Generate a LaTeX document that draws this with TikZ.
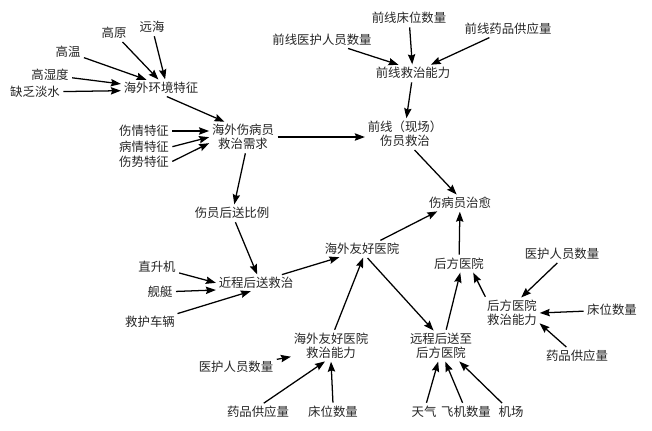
\documentclass[tikz,border=0pt]{standalone}
\usepackage{fontspec}
\newfontfamily\cjk{Noto Sans CJK SC}
\usetikzlibrary{arrows.meta}
\begin{document}
\begin{tikzpicture}[x=0.75pt,y=-0.75pt,
  lbl/.style={font=\cjk\fontsize{9.3}{10.5}\selectfont, text=black!85, inner sep=1.5pt, align=center},
  arr/.style={-{Stealth[length=7.5pt,width=5.5pt,inset=1pt]}, line width=0.95pt, shorten <=1pt, shorten >=0.5pt}]
\fill[white] (0,0) rectangle (652,430);
\path[use as bounding box] (0,0) rectangle (652,430);
% top left
\node[lbl] (yh) at (152,27) {远海};
\node[lbl] (gy) at (114,33) {高原};
\node[lbl] (gw) at (68,52) {高温};
\node[lbl] (gsd) at (50,75) {高湿度};
\node[lbl] (qf) at (35,92) {缺乏淡水};
\node[lbl] (env) at (161,88) {海外环境特征};
\node[lbl] (sq) at (144,131) {伤情特征};
\node[lbl] (bq) at (144,147) {病情特征};
\node[lbl] (ss) at (144,162) {伤势特征};
\node[lbl] (xq) at (243,137) {海外伤病员\\救治需求};
% top right
\node[lbl] (qyh) at (322,40) {前线医护人员数量};
\node[lbl] (qcw) at (409,18) {前线床位数量};
\node[lbl] (qyp) at (508,29) {前线药品供应量};
\node[lbl] (qnl) at (413,73) {前线救治能力};
\node[lbl] (qjz) at (405,134) {前线（现场）\\伤员救治};
\node[lbl] (zy) at (460,203) {伤病员治愈};
% middle
\node[lbl] (hsbl) at (232,213) {伤员后送比例};
\node[lbl] (yy) at (362,249) {海外友好医院};
\node[lbl] (hf) at (459,264) {后方医院};
\node[lbl] (ryh) at (562,254) {医护人员数量};
\node[lbl] (zsj) at (157,267) {直升机};
\node[lbl] (jc) at (256,283) {近程后送救治};
\node[lbl] (jt) at (160,292) {舰艇};
\node[lbl] (jh) at (150,322) {救护车辆};
\node[lbl] (hnl) at (512,313) {后方医院\\救治能力};
\node[lbl] (rcw) at (612,310) {床位数量};
\node[lbl] (ynl) at (331,346) {海外友好医院\\救治能力};
\node[lbl] (lyh) at (236,367) {医护人员数量};
\node[lbl] (yc) at (441,346) {远程后送至\\后方医院};
\node[lbl] (ryp) at (577,356) {药品供应量};
% bottom
\node[lbl] (byp) at (258,412) {药品供应量};
\node[lbl] (bcw) at (333,412) {床位数量};
\node[lbl] (tq) at (424,412) {天气};
\node[lbl] (fj) at (466,412) {飞机数量};
\node[lbl] (jch) at (511,412) {机场};
% arrows
\draw[arr] (yh) -- (env.62);
\draw[arr] (gy) -- (env.105);
\draw[arr] (gw) -- (env.150);
\draw[arr] (gsd) -- ([yshift=3pt]env.west);
\draw[arr] (qf) -- ([yshift=-2pt]env.west);
\draw[arr] (env.-60) -- (xq.140);
\draw[arr] (sq) -- (xq.west |- sq);
\draw[arr] (bq.east) -- (xq.west);
\draw[arr] (ss.east) -- (xq.-170);
\draw[arr] (xq.east) -- (qjz.west |- xq.east);
\draw[arr] (xq.-80) -- (hsbl.75);
\draw[arr] (hsbl.-70) -- (jc.80);
\draw[arr] (zsj) -- (jc.west);
\draw[arr] (jt) -- (jc.-170);
\draw[arr] (jh) -- (jc.-120);
\draw[arr] (jc.18) -- (yy.-160);
\draw[arr] (yy.25) -- (zy.-160);
\draw[arr] (yy.-60) -- (yc.115);
\draw[arr] (ynl.78) -- (yy.-80);
\draw[arr] (lyh) -- (ynl.-165);
\draw[arr] (byp.60) -- (ynl.-110);
\draw[arr] (bcw.north) -- (ynl.-90);
\draw[arr] (qyh) -- (qnl.150);
\draw[arr] (qcw) -- (qnl.95);
\draw[arr] (qyp) -- (qnl.25);
\draw[arr] (qnl) -- (qjz.85);
\draw[arr] (qjz.-60) -- (zy.110);
\draw[arr] (hf) -- (zy);
\draw[arr] (yc.72) -- (hf.-80);
\draw[arr] (hnl.150) -- (hf.-30);
\draw[arr] (ryh.-115) -- (hnl.60);
\draw[arr] (rcw) -- (hnl.east);
\draw[arr] (ryp.140) -- (hnl.-20);
\draw[arr] (tq.75) -- (yc.-100);
\draw[arr] (fj.110) -- (yc.-75);
\draw[arr] (jch.135) -- (yc.-40);
\end{tikzpicture}
\end{document}
